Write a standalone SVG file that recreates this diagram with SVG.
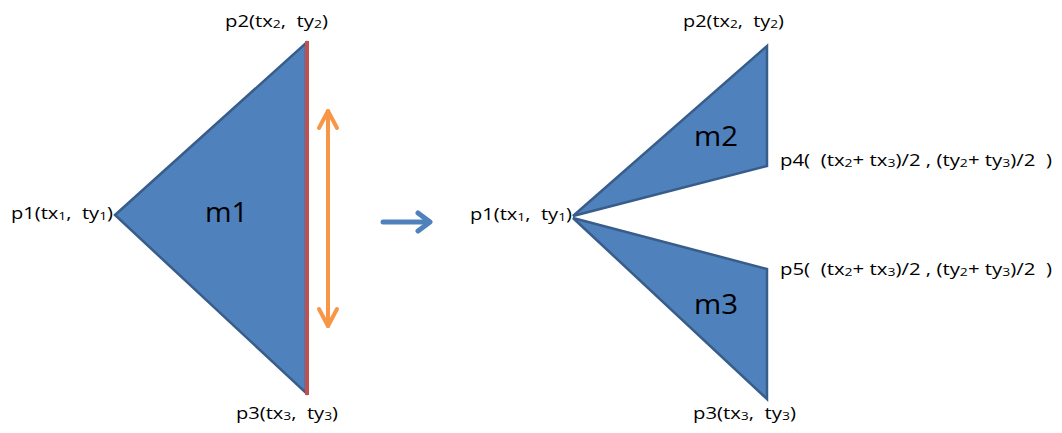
<svg xmlns="http://www.w3.org/2000/svg" width="1062" height="433" viewBox="0 0 1062 433">
<style>
.tri{fill:#4F81BD;stroke:#385D8A;stroke-width:2.5;stroke-linejoin:miter}
.lbl{font-family:"Open Sans","Liberation Sans",Arial,sans-serif;font-size:16px;fill:#000;white-space:pre}
.sub{font-size:11px}
.big{font-family:"Open Sans","Liberation Sans",Arial,sans-serif;font-size:28px;fill:#000}
</style>
<rect width="1062" height="433" fill="#fff"/>
<g id="m1">
<polygon class="tri" points="115,215 306,43 306,393"/>
<text class="big" x="205" y="222" textLength="43" lengthAdjust="spacingAndGlyphs">m1</text>
</g>
<g id="edge-red">
<line x1="307" y1="41" x2="307" y2="395" stroke="#C0504D" stroke-width="4"/>
</g>
<g id="m2">
<polygon class="tri" points="573,216 767,46 767,166"/>
<text class="big" x="694" y="146" textLength="44" lengthAdjust="spacingAndGlyphs">m2</text>
</g>
<g id="m3">
<polygon class="tri" points="573,218 767,269 767,399"/>
<text class="big" x="694" y="314" textLength="44" lengthAdjust="spacingAndGlyphs">m3</text>
</g>
<g id="connectors">
<g stroke="#F79646" stroke-width="4" fill="none" stroke-linecap="round" stroke-linejoin="round">
<line x1="328" y1="111" x2="328" y2="326"/>
<polyline points="319,128 328,111 337,128"/>
<polyline points="319,309 328,326 337,309"/>
</g>
<g stroke="#4F81BD" stroke-width="5" fill="none" stroke-linecap="round" stroke-linejoin="round">
<line x1="383" y1="222" x2="429" y2="222"/>
<polyline points="418,213 430,222 418,231"/>
</g>
</g>
<g id="labels">
<text class="lbl" x="225" y="27" textLength="103" lengthAdjust="spacingAndGlyphs">p2(tx<tspan class="sub" dy="1">2</tspan><tspan dy="-1">,  ty</tspan><tspan class="sub" dy="1">2</tspan><tspan dy="-1">)</tspan></text>
<text class="lbl" x="11" y="219" textLength="102" lengthAdjust="spacingAndGlyphs">p1(tx<tspan class="sub" dy="1">1</tspan><tspan dy="-1">,  ty</tspan><tspan class="sub" dy="1">1</tspan><tspan dy="-1">)</tspan></text>
<text class="lbl" x="236" y="419" textLength="102" lengthAdjust="spacingAndGlyphs">p3(tx<tspan class="sub" dy="1">3</tspan><tspan dy="-1">,  ty</tspan><tspan class="sub" dy="1">3</tspan><tspan dy="-1">)</tspan></text>
<text class="lbl" x="683" y="27" textLength="101" lengthAdjust="spacingAndGlyphs">p2(tx<tspan class="sub" dy="1">2</tspan><tspan dy="-1">,  ty</tspan><tspan class="sub" dy="1">2</tspan><tspan dy="-1">)</tspan></text>
<text class="lbl" x="470" y="220" textLength="102" lengthAdjust="spacingAndGlyphs">p1(tx<tspan class="sub" dy="1">1</tspan><tspan dy="-1">,  ty</tspan><tspan class="sub" dy="1">1</tspan><tspan dy="-1">)</tspan></text>
<text class="lbl" x="693" y="419" textLength="103" lengthAdjust="spacingAndGlyphs">p3(tx<tspan class="sub" dy="1">3</tspan><tspan dy="-1">,  ty</tspan><tspan class="sub" dy="1">3</tspan><tspan dy="-1">)</tspan></text>
<text class="lbl" x="780" y="166" textLength="272" lengthAdjust="spacingAndGlyphs">p4(  (tx<tspan class="sub" dy="1">2</tspan><tspan dy="-1">+ tx</tspan><tspan class="sub" dy="1">3</tspan><tspan dy="-1">)/2 , (ty</tspan><tspan class="sub" dy="1">2</tspan><tspan dy="-1">+ ty</tspan><tspan class="sub" dy="1">3</tspan><tspan dy="-1">)/2  )</tspan></text>
<text class="lbl" x="780" y="275" textLength="272" lengthAdjust="spacingAndGlyphs">p5(  (tx<tspan class="sub" dy="1">2</tspan><tspan dy="-1">+ tx</tspan><tspan class="sub" dy="1">3</tspan><tspan dy="-1">)/2 , (ty</tspan><tspan class="sub" dy="1">2</tspan><tspan dy="-1">+ ty</tspan><tspan class="sub" dy="1">3</tspan><tspan dy="-1">)/2  )</tspan></text>
</g>
</svg>
